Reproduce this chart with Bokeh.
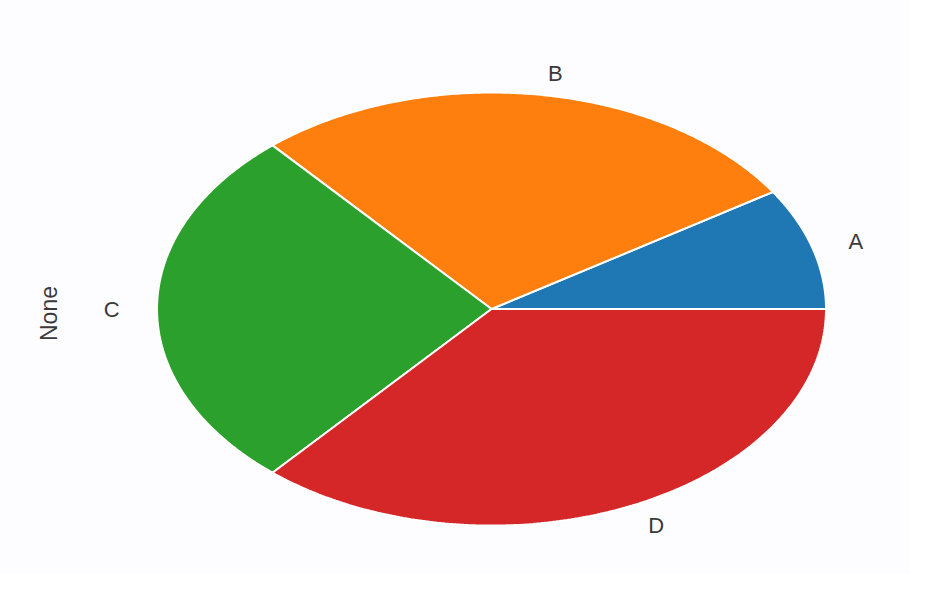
import numpy as np
from bokeh.plotting import figure
from bokeh.models import ColumnDataSource, Range1d, Label
from bokeh.embed import file_html
from bokeh.resources import INLINE
from bokeh.core.properties import value

categories = ["A", "B", "C", "D"]
values = [1, 3, 3, 4]
colors = ["#1f77b4", "#ff7f0e", "#2ca02c", "#d62728"]

W, H = 910, 574
p = figure(width=W, height=H, output_backend="svg", toolbar_location=None,
           x_range=Range1d(-1.468, 1.2526), y_range=Range1d(-1.226, 1.425),
           min_border=0, background_fill_color="#fdfcfe", border_fill_color="#fdfcfe")
p.axis.visible = False
p.grid.visible = False
p.outline_line_color = None

total = sum(values)
fr = np.cumsum([0] + values) / total * 2 * np.pi
xs, ys = [], []
lab = {"left": dict(x=[], y=[], text=[]), "right": dict(x=[], y=[], text=[])}
for i in range(len(values)):
    t = np.linspace(fr[i], fr[i + 1], 200)
    xs.append(np.concatenate([[0], np.cos(t), [0]]))
    ys.append(np.concatenate([[0], np.sin(t), [0]]))
    m = (fr[i] + fr[i + 1]) / 2
    side = "left" if np.cos(m) >= 0 else "right"
    lab[side]["x"].append(1.1 * np.cos(m))
    lab[side]["y"].append(1.1 * np.sin(m))
    lab[side]["text"].append(categories[i])

src = ColumnDataSource(dict(xs=xs, ys=ys, color=colors, cat=categories))
p.patches("xs", "ys", source=src, fill_color="color", line_color="white", line_width=2)

for side, d in lab.items():
    p.text("x", "y", text="text", source=ColumnDataSource(d), text_align=side,
           text_baseline="middle", text_font=value("Liberation Sans"),
           x_offset=4 if side == "left" else -4,
           text_font_size="22px", text_color="#3a3a3a")

p.add_layout(Label(x=48, y=H - 313, x_units="screen", y_units="screen", text="None",
                   angle=np.pi / 2, text_align="center", text_baseline="middle",
                   text_font="Liberation Sans", text_font_size="23px", text_color="#3a3a3a"))

open("out.html", "w").write(file_html(p, INLINE))
